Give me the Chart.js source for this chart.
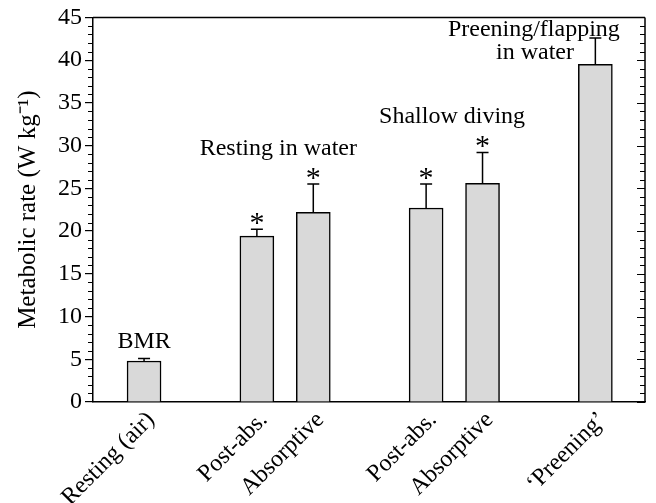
<!DOCTYPE html>
<html><head><meta charset="utf-8">
<script src="https://cdn.jsdelivr.net/npm/chart.js@4/dist/chart.umd.min.js"></script>
<style>html,body{margin:0;padding:0;background:#fff}#wrap{width:656px;height:503px;position:relative}</style>
</head><body><div id="wrap"><canvas id="c"></canvas></div>
<script>
const categories = ['Resting (air)', 'Post-abs.', 'Absorptive', 'Post-abs.', 'Absorptive', '\u2018Preening\u2019'];
const slots = [0, 2, 3, 5, 6, 8];
const values = [4.8, 19.4, 22.2, 22.7, 25.6, 39.5];
const errors = [0.3, 0.8, 3.3, 2.8, 3.6, 3.1];
const significant = [false, true, true, true, true, false];
const noteTexts = ['BMR', 'Resting in water', 'Shallow diving', 'Preening/flapping', 'in water'];
const noteX = [0, 2.38, 5.46, 6.91, 6.93];
const noteY = [7.0, 29.65, 33.4, 43.6, 40.9];
const yTicks = [0, 5, 10, 15, 20, 25, 30, 35, 40, 45];

const FONT = '"Liberation Serif", "Times New Roman", serif';
const FS = 24;

const extras = {
  id: 'extras',
  afterDatasetsDraw(chart) {
    const ctx = chart.ctx, xs = chart.scales.x, ys = chart.scales.y, a = chart.chartArea;
    ctx.save();
    ctx.strokeStyle = '#000';
    ctx.fillStyle = '#000';
    ctx.lineWidth = 1.5;
    ctx.beginPath();
    ctx.moveTo(a.left, a.top); ctx.lineTo(a.right, a.top);
    ctx.moveTo(a.right, a.top); ctx.lineTo(a.right, a.bottom);
    ctx.stroke();
    ctx.lineWidth = 1.2;
    ctx.beginPath();
    for (let v = 0; v <= 45; v++) {
      const y = Math.round(ys.getPixelForValue(v)) + 0.5;
      const major = v % 5 === 0;
      if (!major) { ctx.moveTo(a.left - 5, y); ctx.lineTo(a.left, y); }
      ctx.moveTo(a.right - (major ? 8 : 5), y); ctx.lineTo(a.right, y);
    }
    ctx.stroke();
    ctx.lineWidth = 1.5;
    for (let i = 0; i < values.length; i++) {
      const x = xs.getPixelForValue(slots[i]);
      const yb = ys.getPixelForValue(values[i]);
      const yt = ys.getPixelForValue(values[i] + errors[i]);
      ctx.beginPath();
      ctx.moveTo(x, yb); ctx.lineTo(x, yt);
      ctx.moveTo(x - 6, yt); ctx.lineTo(x + 6, yt);
      ctx.stroke();
      if (significant[i]) {
        ctx.font = '30px ' + FONT;
        ctx.textAlign = 'center';
        ctx.textBaseline = 'alphabetic';
        ctx.fillText('*', x, yt - 12 + 15);
      }
    }
    ctx.font = FS + 'px ' + FONT;
    ctx.textAlign = 'center';
    ctx.textBaseline = 'middle';
    for (let i = 0; i < noteTexts.length; i++) {
      ctx.fillText(noteTexts[i], xs.getPixelForValue(noteX[i]), ys.getPixelForValue(noteY[i]));
    }
    ctx.restore();
  }
};

new Chart(document.getElementById('c'), {
  type: 'bar',
  data: {
    datasets: [{
      data: slots.map((s, i) => ({x: s, y: values[i]})),
      backgroundColor: '#d9d9d9',
      borderColor: '#000',
      borderWidth: 1.5,
      borderSkipped: 'start',
      barThickness: 34
    }]
  },
  options: {
    responsive: true,
    maintainAspectRatio: false,
    animation: false,
    devicePixelRatio: 1,
    layout: {padding: {left: 13, right: 11, top: 15, bottom: 0}},
    plugins: {legend: {display: false}, tooltip: {enabled: false}},
    scales: {
      x: {
        type: 'linear',
        offset: false,
        min: -0.905,
        max: 8.88,
        afterBuildTicks: (s) => { s.ticks = slots.map(v => ({value: v})); },
        afterFit: (s) => { s.height = 101; },
        grid: {display: false, drawTicks: false, offset: false},
        border: {display: true, color: '#000', width: 1.5},
        ticks: {
          autoSkip: false,
          maxRotation: 45,
          minRotation: 45,
          padding: 4,
          labelOffset: 7,
          color: '#000',
          font: {family: FONT, size: FS},
          callback: (v) => { const k = slots.indexOf(v); return k >= 0 ? categories[k] : ''; }
        }
      },
      y: {
        min: 0,
        max: 45,
        afterBuildTicks: (s) => { s.ticks = yTicks.map(v => ({value: v})); },
        afterFit: (s) => { s.width = 80; },
        grid: {display: true, drawOnChartArea: false, drawTicks: true, tickLength: 8, color: '#000', lineWidth: 1.2},
        border: {display: true, color: '#000', width: 1.5},
        ticks: {color: '#000', padding: 3, font: {family: FONT, size: FS}},
        title: {display: true, text: 'Metabolic rate (W kg\u207B\u00B9)', color: '#000', font: {family: FONT, size: 25}, padding: {top: 0, bottom: 4}}
      }
    }
  },
  plugins: [extras]
});
</script></body></html>
